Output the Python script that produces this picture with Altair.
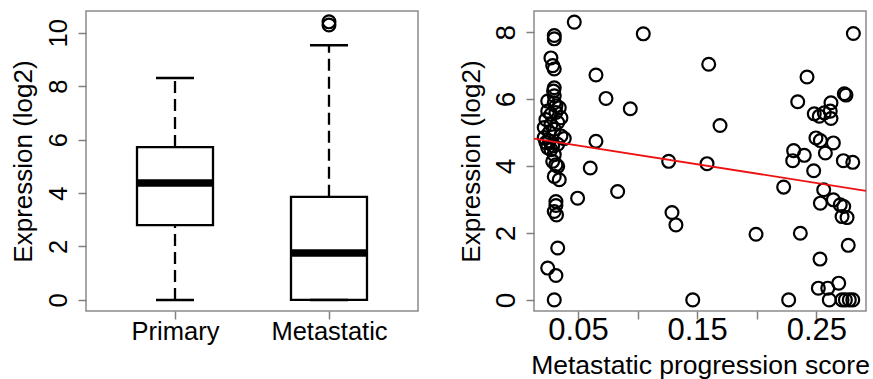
import altair as alt
import pandas as pd

# ---------------- Left panel: box plot summary ----------------
categories = ["Primary", "Metastatic"]
whisker_low = [0.0, 0.0]
q1 = [2.80, 0.00]
median = [4.38, 1.76]
q3 = [5.72, 3.86]
whisker_high = [8.31, 9.53]
outlier_group = ["Metastatic", "Metastatic"]
outlier_value = [10.29, 10.41]
box_y_ticks = [0, 2, 4, 6, 8, 10]
box_y_domain = [-0.416, 10.816]

# ---------------- Right panel: scatter ----------------
score = [
    0.0469, 0.0301, 0.0301, 0.0273, 0.0288, 0.0301, 0.0651, 0.0301, 0.0295, 0.0301,
    0.0735, 0.0246, 0.0301, 0.0315, 0.0343, 0.0246, 0.0273, 0.0357, 0.0231, 0.0273,
    0.0217, 0.0301, 0.0385, 0.0217, 0.0259, 0.0651, 0.0330, 0.0231, 0.0273, 0.0301,
    0.0288, 0.0315, 0.0330, 0.0603, 0.0301, 0.0343, 0.0497, 0.0833, 0.0315, 0.0315,
    0.0301, 0.0320, 0.0330, 0.0246, 0.0315, 0.0301, 0.0259, 0.0330, 0.0288, 0.0246,
    0.0315, 0.0357,
    0.1048, 0.1597, 0.0939, 0.1692, 0.1261, 0.1583, 0.1289, 0.1322, 0.1994, 0.1463,
    0.2811, 0.2422, 0.2735, 0.2749, 0.2344, 0.2623, 0.2483, 0.2525, 0.2567, 0.2617,
    0.2623, 0.2497, 0.2534, 0.2643, 0.2310, 0.2399, 0.2302, 0.2576, 0.2727, 0.2806,
    0.2478, 0.2226, 0.2562, 0.2534, 0.2643, 0.2701, 0.2730, 0.2716, 0.2758, 0.2366,
    0.2768, 0.2531, 0.2517, 0.2596, 0.2688, 0.2609, 0.2716, 0.2744, 0.2777, 0.2806,
    0.2268,
]
expression = [
    8.30, 7.90, 7.80, 7.23, 7.00, 6.90, 6.72, 6.34, 6.24, 6.10,
    6.02, 5.94, 5.89, 5.80, 5.74, 5.64, 5.54, 5.44, 5.39, 5.24,
    5.15, 5.10, 4.82, 4.85, 4.75, 4.74, 4.65, 4.70, 4.49, 4.34,
    4.14, 4.04, 3.99, 3.94, 3.69, 3.59, 3.04, 3.24, 2.94, 2.82,
    2.64, 2.54, 1.55, 0.95, 0.73, 0.00, 5.00, 5.30, 4.60, 4.55,
    5.60, 4.90,
    7.95, 7.04, 5.71, 5.21, 4.14, 4.07, 2.61, 2.24, 1.96, 0.00,
    7.96, 6.66, 6.16, 6.12, 5.92, 5.89, 5.56, 5.49, 5.59, 5.64,
    5.42, 4.84, 4.76, 4.69, 4.46, 4.32, 4.16, 4.39, 4.16, 4.11,
    3.86, 3.37, 3.29, 2.89, 2.99, 2.84, 2.79, 2.49, 2.46, 1.99,
    1.63, 1.22, 0.35, 0.35, 0.50, 0.00, 0.00, 0.00, 0.00, 0.00,
    0.00,
]
fit_intercept = 4.893
fit_slope = -5.60
scatter_x_ticks = [0.05, 0.10, 0.15, 0.20, 0.25]
scatter_y_ticks = [0, 2, 4, 6, 8]
scatter_x_domain = [0.0131, 0.2917]
scatter_y_domain = [-0.332, 8.632]

FONT = "Liberation Sans"
TICK_GRAY = "#808080"
W, H = 332, 300

# ---------------- Left chart ----------------
box_df = pd.DataFrame({
    "group": categories, "lo": whisker_low, "q1": q1,
    "med": median, "q3": q3, "hi": whisker_high,
})
out_df = pd.DataFrame({"group": outlier_group, "value": outlier_value})

x_box = alt.X(
    "group:N", sort=categories,
    scale=alt.Scale(type="point", padding=0.578),
    axis=alt.Axis(title=None, labelAngle=0, labelFontSize=25.5, labelFont=FONT,
                  labelColor="black", labelBaseline="alphabetic", labelPadding=20.3,
                  tickSize=8, tickColor=TICK_GRAY, tickWidth=1.5, domain=False,
                  grid=False),
)
y_box_scale = alt.Scale(domain=box_y_domain, nice=False, zero=False)
y_box_axis = alt.Axis(
    values=box_y_ticks, title="Expression (log2)", titleFont=FONT, titleFontSize=26,
    titleFontWeight="normal", titleColor="black", titleAngle=270, titleAlign="center",
    titleBaseline="alphabetic", titleX=-55, titleY=150,
    labelAngle=270, labelAlign="center", labelBaseline="alphabetic",
    labelFontSize=25.5, labelFont=FONT, labelColor="black", labelPadding=12,
    labelOverlap=False, labelFlush=False,
    tickSize=8, tickColor=TICK_GRAY, tickWidth=1.5, domain=False, grid=False,
)

base = alt.Chart(box_df)
lower_whisker = base.mark_rule(color="black", strokeWidth=2.3, strokeDash=[12, 6]).encode(
    x=x_box, y=alt.Y("lo:Q", scale=y_box_scale, axis=y_box_axis), y2="q1:Q")
upper_whisker = base.mark_rule(color="black", strokeWidth=2.3, strokeDash=[12, 6]).encode(
    x=x_box, y=alt.Y("q3:Q", scale=y_box_scale, axis=y_box_axis), y2="hi:Q")
box = base.mark_bar(size=76, fill="white", stroke="black", strokeWidth=2.3).encode(
    x=x_box, y=alt.Y("q1:Q", scale=y_box_scale, axis=y_box_axis), y2="q3:Q")
med = base.mark_tick(size=76, thickness=7.5, color="black", opacity=1).encode(
    x=x_box, y=alt.Y("med:Q", scale=y_box_scale, axis=y_box_axis))
cap_lo = base.mark_tick(size=38, thickness=2.5, color="black", opacity=1).encode(
    x=x_box, y=alt.Y("lo:Q", scale=y_box_scale, axis=y_box_axis))
cap_hi = base.mark_tick(size=38, thickness=2.5, color="black", opacity=1).encode(
    x=x_box, y=alt.Y("hi:Q", scale=y_box_scale, axis=y_box_axis))
outliers = alt.Chart(out_df).mark_point(
    shape="circle", size=165, filled=False, strokeWidth=2.2, color="black", opacity=1
).encode(x=x_box, y=alt.Y("value:Q", scale=y_box_scale, axis=y_box_axis))

left = alt.layer(lower_whisker, upper_whisker, box, med, cap_lo, cap_hi, outliers).properties(
    width=W, height=H)

# ---------------- Right chart ----------------
sc_df = pd.DataFrame({"score": score, "expression": expression})
line_df = pd.DataFrame({"score": scatter_x_domain})

x_sc_scale = alt.Scale(domain=scatter_x_domain, nice=False, zero=False)
y_sc_scale = alt.Scale(domain=scatter_y_domain, nice=False, zero=False)
x_sc_axis = alt.Axis(
    values=scatter_x_ticks,
    labelExpr="(abs(datum.value-0.1)<1e-6 || abs(datum.value-0.2)<1e-6) ? '' : format(datum.value, '.2f')",
    title="Metastatic progression score", titleFont=FONT, titleFontSize=26.5,
    titleFontWeight="normal", titleColor="black", titleAlign="center",
    titleBaseline="alphabetic", titleX=166, titleY=62.3,
    labelFontSize=31, labelFont=FONT, labelColor="black", labelBaseline="alphabetic",
    labelPadding=20.3, labelOverlap=False, labelFlush=False,
    tickSize=8, tickColor=TICK_GRAY, tickWidth=1.5, domain=False, grid=False,
)
y_sc_axis = alt.Axis(
    values=scatter_y_ticks, title="Expression (log2)", titleFont=FONT, titleFontSize=26,
    titleFontWeight="normal", titleColor="black", titleAngle=270, titleAlign="center",
    titleBaseline="alphabetic", titleX=-55, titleY=150,
    labelAngle=270, labelAlign="center", labelBaseline="alphabetic",
    labelFontSize=28, labelFont=FONT, labelColor="black", labelPadding=12,
    labelOverlap=False, labelFlush=False,
    tickSize=8, tickColor=TICK_GRAY, tickWidth=1.5, domain=False, grid=False,
)

points = alt.Chart(sc_df).mark_point(
    shape="circle", size=165, filled=False, strokeWidth=2.2, color="black", opacity=1
).encode(
    x=alt.X("score:Q", scale=x_sc_scale, axis=x_sc_axis),
    y=alt.Y("expression:Q", scale=y_sc_scale, axis=y_sc_axis),
)
fit_line = alt.Chart(line_df).transform_calculate(
    fit=f"{fit_intercept} + ({fit_slope}) * datum.score"
).mark_line(color="#ee1111", strokeWidth=1.8).encode(
    x=alt.X("score:Q", scale=x_sc_scale, axis=x_sc_axis),
    y=alt.Y("fit:Q", scale=y_sc_scale, axis=y_sc_axis),
)
right = alt.layer(points, fit_line).properties(width=W, height=H)

chart = alt.hconcat(left, right, spacing=116, bounds="flush").properties(
    padding={"left": 9, "top": 10, "right": 0, "bottom": 0},
    background="white",
).configure_view(stroke="#8a8a8a", strokeWidth=1.5)

chart.save("out.html", embed_options={"renderer": "svg", "actions": False})
